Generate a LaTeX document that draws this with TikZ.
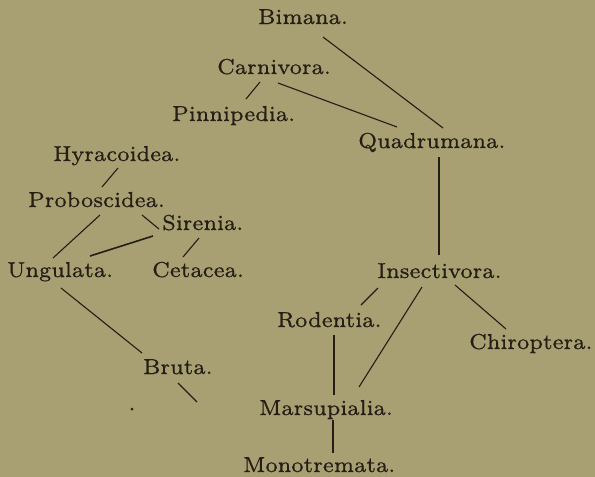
\documentclass[tikz,border=0pt]{standalone}
\usepackage{fontspec}
\setmainfont{lmroman7-regular.otf}
\newfontfamily\lblfont{lmroman7-regular.otf}[FakeBold=0.7]
\usetikzlibrary{calc}
\definecolor{paper}{RGB}{168,159,114}
\definecolor{ink}{RGB}{36,30,20}
\begin{document}
\begin{tikzpicture}[x=1pt,y=-1pt,
  lbl/.style={anchor=base west, inner sep=0pt, text=ink, font=\lblfont\fontsize{21.6}{22}\selectfont},
  link/.style={draw=ink, line width=1.1pt}]
\fill[paper] (0,0) rectangle (595,477);
\useasboundingbox (0,0) rectangle (595,477);
\node[lbl] (bim)  at (258,24)  {Bimana.};
\node[lbl] (car)  at (217,74)  {Carnivora.};
\node[lbl] (pin)  at (172,121) {Pinnipedia.};
\node[lbl] (quad) at (358,148) {Quadrumana.};
\node[lbl] (hyr)  at (53,161)  {Hyracoidea.};
\node[lbl] (pro)  at (28,207)  {Proboscidea.};
\node[lbl] (sir)  at (162,230) {Sirenia.};
\node[lbl] (ung)  at (7,277)   {Ungulata.};
\node[lbl] (cet)  at (152,277) {Cetacea.};
\node[lbl] (ins)  at (377,278) {Insectivora.};
\node[lbl] (rod)  at (277,327) {Rodentia.};
\node[lbl] (chi)  at (469,349) {Chiroptera.};
\node[lbl] (bru)  at (143,374) {Bruta.};
\node[lbl] (mar)  at (259,415) {Marsupialia.};
\node[lbl] (mon)  at (243,472) {Monotremata.};
\coordinate (stub) at (197,402);
\coordinate (dot) at (132,409);
\draw[link] ($(bim.base west)+(65,13)$) -- ($(quad.base west)+(85,-20)$);
\draw[link] ($(car.base west)+(43,8)$) -- ($(pin.base west)+(74,-22)$);
\draw[link] ($(car.base west)+(61,9)$) -- ($(quad.base west)+(39,-21)$);
\draw[link] ($(quad.base west)+(81,9)$) -- ($(ins.base west)+(62,-23)$);
\draw[link] ($(hyr.base west)+(65,7)$) -- ($(pro.base west)+(74,-20)$);
\draw[link] ($(pro.base west)+(72,8)$) -- ($(ung.base west)+(46,-19)$);
\draw[link] ($(pro.base west)+(114,8)$) -- ($(sir.base west)+(-3,-1)$);
\draw[link, line width=1.6pt] ($(sir.base west)+(-9,6)$) -- ($(ung.base west)+(83,-21)$);
\draw[link] ($(sir.base west)+(37,8)$) -- ($(cet.base west)+(31,-20)$);
\draw[link] ($(ung.base west)+(54,11)$) -- ($(bru.base west)+(-1,-21)$);
\draw[link] ($(bru.base west)+(35,9)$) -- (stub);
\fill[ink] (dot) circle (1.5);
\draw[link] ($(ins.base west)+(1,10)$) -- ($(rod.base west)+(84,-22)$);
\draw[link] ($(ins.base west)+(45,9)$) -- ($(mar.base west)+(100,-28)$);
\draw[link] ($(ins.base west)+(78,7)$) -- ($(chi.base west)+(37,-20)$);
\draw[link] ($(rod.base west)+(57,8)$) -- ($(mar.base west)+(75,-20)$);
\draw[link] ($(mar.base west)+(74,5)$) -- ($(mon.base west)+(90,-19)$);
\end{tikzpicture}
\end{document}
